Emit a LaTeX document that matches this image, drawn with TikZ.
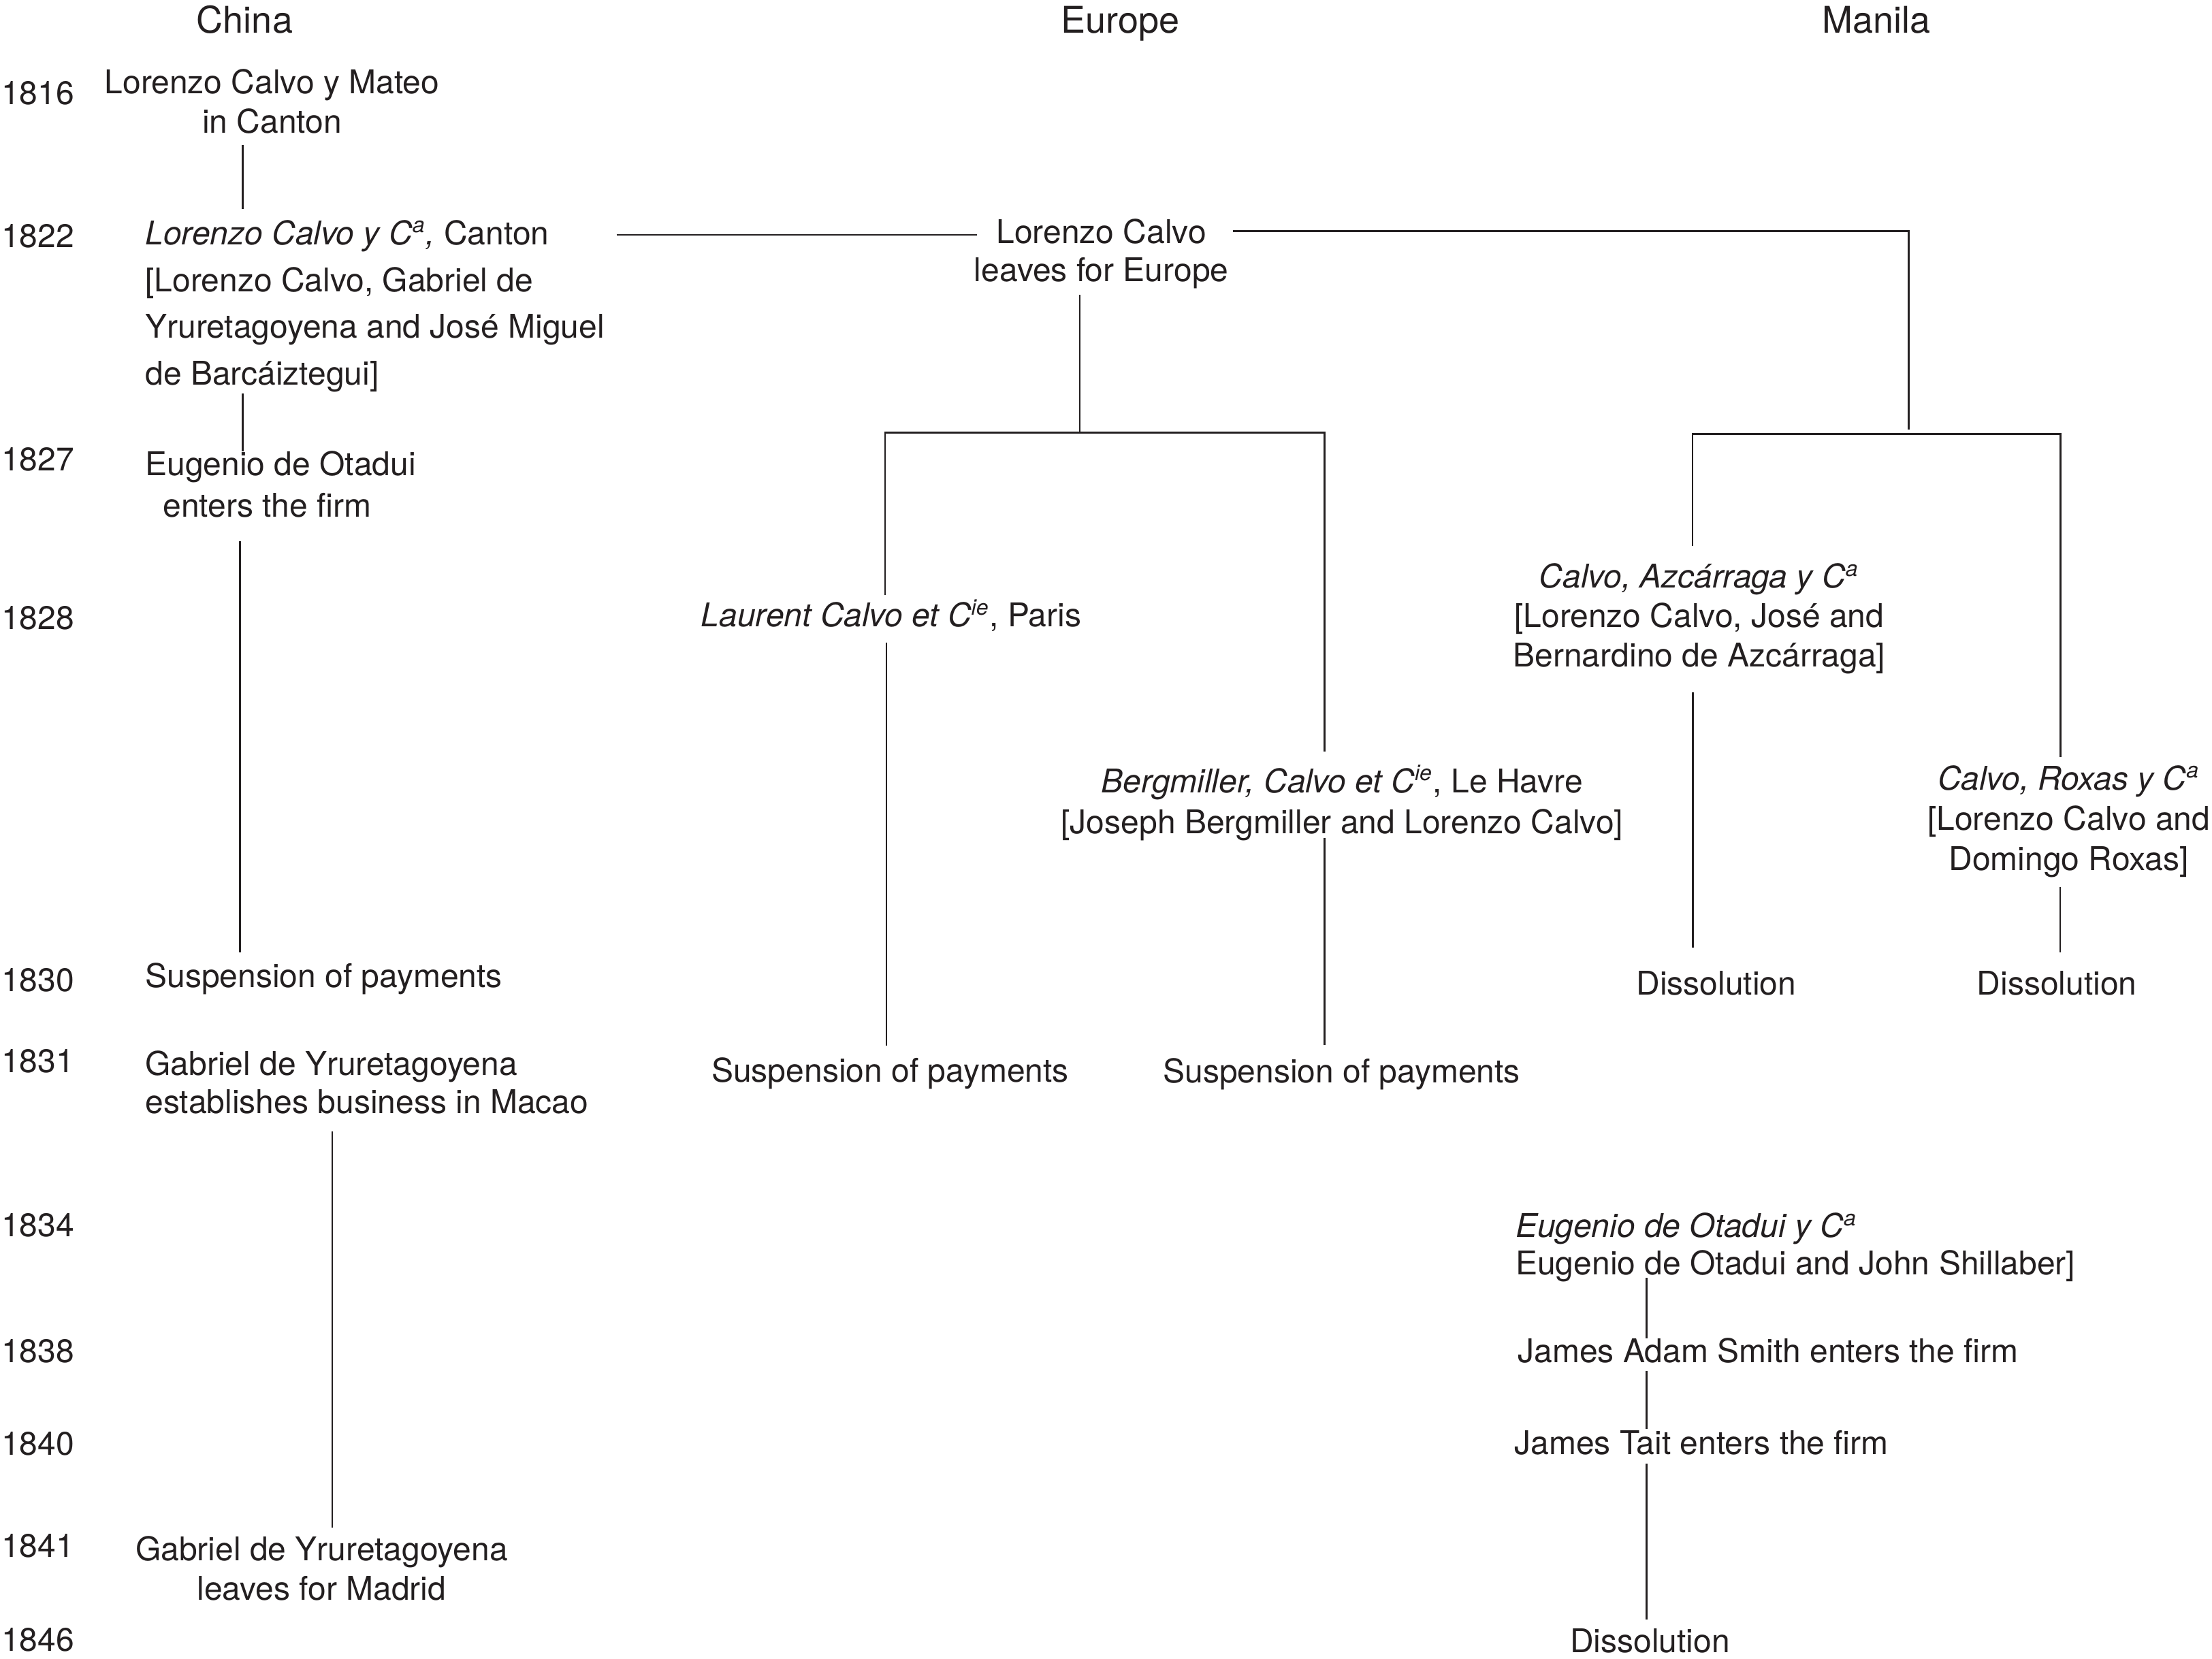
\documentclass[tikz,border=0pt]{standalone}
\usepackage{fontspec}
\setmainfont{TeX Gyre Heros}
\definecolor{ink}{HTML}{231F20}
\begin{document}
\begin{tikzpicture}[x=0.518pt,y=-0.518pt,
  txt/.style={inner sep=0pt, outer sep=0pt, text=ink, font=\fontsize{12}{14.5}\selectfont, anchor=base},
  hdr/.style={inner sep=0pt, outer sep=0pt, text=ink, font=\fontsize{13.5}{16}\selectfont, anchor=base},
  yr/.style={txt, anchor=base west},
  conn/.style={draw=ink, line width=0.7pt}]
\useasboundingbox (0,0) rectangle (1568,1176);

% headers
\node[hdr] (hChina) at (173.5,23.4) {China};
\node[hdr] (hEurope) at (794,23.4) {Europe};
\node[hdr] (hManila) at (1330,23.4) {Manila};

% years
\node[yr] (y1816) at (1,74.3) {1816};
\node[yr] (y1822) at (1,175.5) {1822};
\node[yr] (y1827) at (1,333.5) {1827};
\node[yr] (y1828) at (1,446.3) {1828};
\node[yr] (y1830) at (1,703) {1830};
\node[yr] (y1831) at (1,760.3) {1831};
\node[yr] (y1834) at (1,876.8) {1834};
\node[yr] (y1838) at (1,966) {1838};
\node[yr] (y1840) at (1,1031.8) {1840};
\node[yr] (y1841) at (1,1103.8) {1841};
\node[yr] (y1846) at (1,1170.6) {1846};

% China column
\node[txt, align=center] (n1816) at (192.8,94.3) {Lorenzo Calvo y Mateo\\in Canton};
\node[txt, anchor=base west, align=left, font=\fontsize{12}{17.2}\selectfont] (n1822) at (103,273)
  {\textit{Lorenzo Calvo y C\textsuperscript{a},} Canton\\{}[Lorenzo Calvo, Gabriel de\\Yruretagoyena and José Miguel\\de Barcáiztegui]};
\node[txt, anchor=base west, align=left, font=\fontsize{12}{15.2}\selectfont] (n1827) at (103,366.5)
  {Eugenio de Otadui\\\hspace*{6.5pt}enters the firm};
\node[txt, anchor=base west] (n1830) at (103,700) {Suspension of payments};
\node[txt, anchor=base west, align=left, font=\fontsize{12}{14.1}\selectfont] (n1831) at (103,789.3)
  {Gabriel de Yruretagoyena\\establishes business in Macao};
\node[txt, align=center] (n1841) at (228,1134.3) {Gabriel de Yruretagoyena\\leaves for Madrid};

% Europe column
\node[txt, align=center, font=\fontsize{12}{14}\selectfont] (nLeave) at (780.7,199.6) {Lorenzo Calvo\\leaves for Europe};
\node[txt] (nParis) at (631.7,444.3) {\textit{Laurent Calvo et C\textsuperscript{ie}}, Paris};
\node[txt, align=center, font=\fontsize{12}{15.1}\selectfont] (nHavre) at (951.4,591.1)
  {\textit{Bergmiller, Calvo et C\textsuperscript{ie}}, Le Havre\\{}[Joseph Bergmiller and Lorenzo Calvo]};
\node[txt] (nSusP) at (631,767) {Suspension of payments};
\node[txt] (nSusH) at (951,767.8) {Suspension of payments};

% Manila column
\node[txt, align=center] (nAzc) at (1204.5,472.9)
  {\textit{Calvo, Azcárraga y C\textsuperscript{a}}\\{}[Lorenzo Calvo, José and\\Bernardino de Azcárraga]};
\node[txt, align=center, font=\fontsize{12}{14.8}\selectfont] (nRox) at (1466.5,617)
  {\textit{Calvo, Roxas y C\textsuperscript{a}}\\{}[Lorenzo Calvo and\\Domingo Roxas]};
\node[txt] (nDisA) at (1216.6,705.3) {Dissolution};
\node[txt] (nDisR) at (1458,705.3) {Dissolution};
\node[txt, anchor=base west, align=left, font=\fontsize{12}{13.6}\selectfont] (nOta) at (1074.4,903.6)
  {\textit{Eugenio de Otadui y C\textsuperscript{a}}\\Eugenio de Otadui and John Shillaber]};
\node[txt, anchor=base west] (nSmith) at (1076,966) {James Adam Smith enters the firm};
\node[txt, anchor=base west] (nTait) at (1073.6,1031.3) {James Tait enters the firm};
\node[txt] (nDisO) at (1169.6,1171.3) {Dissolution};

% connector end points
\coordinate (c1a) at (172,103);    \coordinate (c1b) at (172,148);
\coordinate (c2a) at (172,279);    \coordinate (c2b) at (172,320);
\coordinate (c3a) at (170,383.5);  \coordinate (c3b) at (170,675);
\coordinate (c4a) at (235.5,802);  \coordinate (c4b) at (235.5,1083);
\coordinate (c5a) at (437,166.5);  \coordinate (c5b) at (692.6,166.5);
\coordinate (c6a) at (873.8,164);  \coordinate (c6b) at (1352.9,164); \coordinate (c6c) at (1352.9,304.5);
\coordinate (c7a) at (765.4,209);  \coordinate (c7b) at (765.4,306.5);
\coordinate (c8a) at (627.4,422);  \coordinate (c8b) at (627.4,306.5);
\coordinate (c8c) at (939,306.5);  \coordinate (c8d) at (939,532.6);
\coordinate (c9a) at (628.4,455.8); \coordinate (c9b) at (628.4,741.3);
\coordinate (c10a) at (939,594);   \coordinate (c10b) at (939,741);
\coordinate (c11a) at (1199.8,387); \coordinate (c11b) at (1199.8,307.5);
\coordinate (c11c) at (1460.7,307.5); \coordinate (c11d) at (1460.7,536.5);
\coordinate (c12a) at (1200,491);  \coordinate (c12b) at (1200,672);
\coordinate (c13a) at (1460.4,629); \coordinate (c13b) at (1460.4,675);
\coordinate (c14a) at (1167.3,906); \coordinate (c14b) at (1167.3,948.6);
\coordinate (c15a) at (1167.3,972); \coordinate (c15b) at (1167.3,1013);
\coordinate (c16a) at (1167.3,1037.7); \coordinate (c16b) at (1167.3,1148);

% connectors
\draw[conn] (c1a) -- (c1b);
\draw[conn] (c2a) -- (c2b);
\draw[conn] (c3a) -- (c3b);
\draw[conn] (c4a) -- (c4b);
\draw[conn] (c5a) -- (c5b);
\draw[conn] (c6a) -- (c6b) -- (c6c);
\draw[conn] (c7a) -- (c7b);
\draw[conn] (c8a) -- (c8b) -- (c8c) -- (c8d);
\draw[conn] (c9a) -- (c9b);
\draw[conn] (c10a) -- (c10b);
\draw[conn] (c11a) -- (c11b) -- (c11c) -- (c11d);
\draw[conn] (c12a) -- (c12b);
\draw[conn] (c13a) -- (c13b);
\draw[conn] (c14a) -- (c14b);
\draw[conn] (c15a) -- (c15b);
\draw[conn] (c16a) -- (c16b);
\end{tikzpicture}
\end{document}
